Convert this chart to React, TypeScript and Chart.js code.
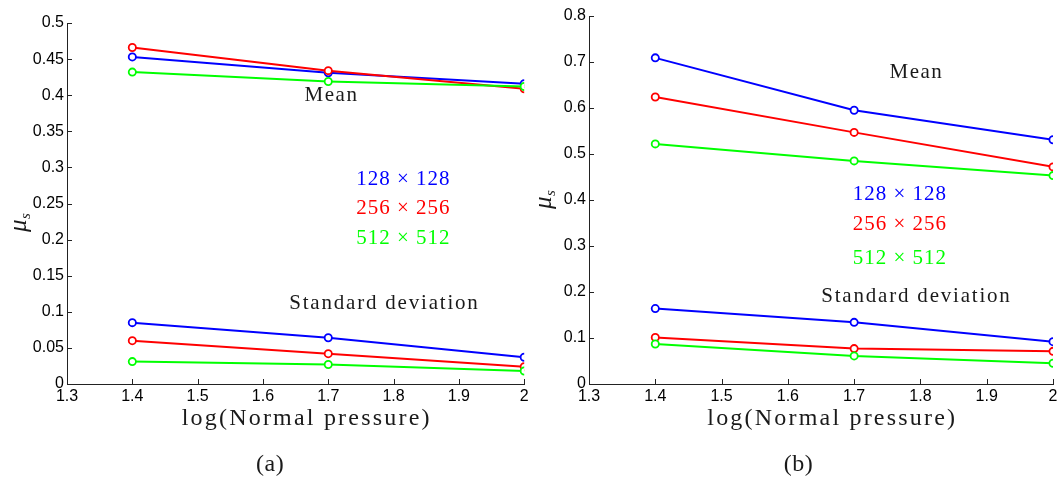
import React, { useEffect, useRef } from "react";
import { Chart, registerables } from "chart.js";

Chart.register(...registerables);

// ---------- data ----------
const xValues = [1.4, 1.7, 2.0];
const xTickValues = [1.3, 1.4, 1.5, 1.6, 1.7, 1.8, 1.9, 2.0];
const aYTickValues = [0, 0.05, 0.1, 0.15, 0.2, 0.25, 0.3, 0.35, 0.4, 0.45, 0.5];
const bYTickValues = [0, 0.1, 0.2, 0.3, 0.4, 0.5, 0.6, 0.7, 0.8];

const seriesNames = ["128 \u00d7 128", "256 \u00d7 256", "512 \u00d7 512"];
const seriesColors = ["#0000ff", "#ff0000", "#00ff00"];

// panel (a)
const aMean128 = [0.453, 0.431, 0.416];
const aMean256 = [0.466, 0.434, 0.409];
const aMean512 = [0.432, 0.419, 0.412];
const aStd128 = [0.085, 0.064, 0.037];
const aStd256 = [0.060, 0.042, 0.024];
const aStd512 = [0.031, 0.027, 0.018];

// panel (b)
const bMean128 = [0.709, 0.595, 0.531];
const bMean256 = [0.624, 0.547, 0.472];
const bMean512 = [0.522, 0.485, 0.453];
const bStd128 = [0.164, 0.134, 0.092];
const bStd256 = [0.101, 0.077, 0.071];
const bStd512 = [0.087, 0.061, 0.045];

const xTitle = "log(Normal pressure)";
const meanText = "Mean";
const stdText = "Standard deviation";

// ---------- helpers ----------
const TEXT_COLOR = "#1a1a1a";
const SERIF = "'Liberation Serif', 'Times New Roman', serif";
const SANS = "'Liberation Sans', Arial, sans-serif";

type Ann = { text: string; x: number; y: number; color: string; size: number; spacing: number };

type PanelProps = {
  left: number;
  width: number;
  plotLeft: number;
  plotRight: number;
  plotTop: number;
  yMax: number;
  yTicks: number[];
  series: number[][][];
  anns: Ann[];
  muPos: [number, number];
  tag: string;
  tagX: number;
};

const H = 480;
const PLOT_BOTTOM = 384;

function fmt(v: number): string {
  return String(Number(v.toFixed(2)));
}

function Panel(p: PanelProps) {
  const ref = useRef<HTMLCanvasElement | null>(null);

  useEffect(() => {
    const canvas = ref.current;
    if (!canvas) return;

    const datasets: any[] = [];
    p.series.forEach((group) => {
      group.forEach((vals, si) => {
        datasets.push({
          label: seriesNames[si],
          data: xValues.map((x, i) => ({ x, y: vals[i] })),
          borderColor: seriesColors[si],
          backgroundColor: seriesColors[si],
          pointBorderColor: seriesColors[si],
          pointBackgroundColor: "#ffffff",
          pointRadius: 3.6,
          pointBorderWidth: 1.8,
          borderWidth: 2,
          tension: 0,
          fill: false,
          order: 2 - si,
        });
      });
    });

    const overlay = {
      id: "overlay",
      afterDraw(chart: any) {
        const ctx = chart.ctx as CanvasRenderingContext2D;
        const xs = chart.scales.x;
        const ys = chart.scales.y;
        const area = chart.chartArea;
        ctx.save();
        // inward ticks
        ctx.strokeStyle = "#222";
        ctx.lineWidth = 1;
        ctx.beginPath();
        xTickValues.forEach((v) => {
          const px = Math.round(xs.getPixelForValue(v)) + 0.5;
          ctx.moveTo(px, area.bottom);
          ctx.lineTo(px, area.bottom - 5);
        });
        p.yTicks.forEach((v) => {
          const py = Math.round(ys.getPixelForValue(v)) + 0.5;
          ctx.moveTo(area.left, py);
          ctx.lineTo(area.left + 5, py);
        });
        ctx.stroke();

        // annotations in data coordinates
        ctx.textAlign = "center";
        ctx.textBaseline = "middle";
        p.anns.forEach((a) => {
          ctx.font = `${a.size}px ${SERIF}`;
          (ctx as any).letterSpacing = `${a.spacing}px`;
          ctx.fillStyle = a.color;
          ctx.fillText(a.text, xs.getPixelForValue(a.x), ys.getPixelForValue(a.y));
        });

        // x axis title
        ctx.font = `24px ${SERIF}`;
        (ctx as any).letterSpacing = "2.2px";
        ctx.fillStyle = TEXT_COLOR;
        ctx.fillText(xTitle, xs.getPixelForValue(1.667), 419);

        // panel tag
        (ctx as any).letterSpacing = "0.5px";
        ctx.fillText(p.tag, xs.getPixelForValue(p.tagX), 465);

        // y label mu_s
        (ctx as any).letterSpacing = "0px";
        ctx.translate(p.muPos[0], p.muPos[1]);
        ctx.rotate(-Math.PI / 2);
        ctx.textAlign = "left";
        ctx.textBaseline = "alphabetic";
        ctx.font = `italic 25px ${SERIF}`;
        ctx.fillText("\u03bc", -9, 5);
        ctx.font = `italic 15px ${SERIF}`;
        ctx.fillText("s", 4, 9);
        ctx.restore();
      },
    };

    const chart = new Chart(canvas, {
      type: "line",
      data: { datasets },
      options: {
        responsive: false,
        animation: false,
        devicePixelRatio: 1,
        layout: {
          padding: { top: p.plotTop, right: p.width - p.plotRight, bottom: 0, left: 0 },
        },
        plugins: {
          legend: { display: false },
          tooltip: { enabled: false },
          title: { display: false },
        },
        scales: {
          x: {
            type: "linear",
            min: 1.3,
            max: 2.0,
            afterBuildTicks: (s: any) => {
              s.ticks = xTickValues.map((v) => ({ value: v }));
            },
            afterFit: (s: any) => {
              s.height = H - PLOT_BOTTOM;
              s.paddingLeft = 0;
              s.paddingRight = 0;
            },
            ticks: {
              callback: (v: any) => fmt(Number(v)),
              color: "#000",
              font: { family: SANS, size: 16 },
              padding: 3,
              maxRotation: 0,
              autoSkip: false,
            },
            grid: { display: false, drawTicks: false },
            border: { display: true, color: "#222", width: 1 },
          },
          y: {
            type: "linear",
            min: 0,
            max: p.yMax,
            afterBuildTicks: (s: any) => {
              s.ticks = p.yTicks.map((v) => ({ value: v }));
            },
            afterFit: (s: any) => {
              s.width = p.plotLeft;
              s.paddingTop = 0;
              s.paddingBottom = 0;
            },
            ticks: {
              callback: (v: any) => fmt(Number(v)),
              color: "#000",
              font: { family: SANS, size: 16 },
              padding: 3,
              autoSkip: false,
            },
            grid: { display: false, drawTicks: false },
            border: { display: true, color: "#222", width: 1 },
          },
        },
      },
      plugins: [overlay],
    } as any);

    return () => chart.destroy();
  }, []);

  return (
    <canvas
      ref={ref}
      width={p.width}
      height={H}
      style={{ position: "absolute", left: p.left, top: 0, width: p.width, height: H }}
    />
  );
}

export default function App() {
  const annA: Ann[] = [
    { text: meanText, x: 1.705, y: 0.399, color: TEXT_COLOR, size: 21, spacing: 1.5 },
    { text: seriesNames[0], x: 1.815, y: 0.283, color: seriesColors[0], size: 21, spacing: 1 },
    { text: seriesNames[1], x: 1.815, y: 0.243, color: seriesColors[1], size: 21, spacing: 1 },
    { text: seriesNames[2], x: 1.815, y: 0.201, color: seriesColors[2], size: 21, spacing: 1 },
    { text: stdText, x: 1.786, y: 0.111, color: TEXT_COLOR, size: 21, spacing: 1.8 },
  ];
  const annB: Ann[] = [
    { text: meanText, x: 1.794, y: 0.678, color: TEXT_COLOR, size: 21, spacing: 1.5 },
    { text: seriesNames[0], x: 1.769, y: 0.412, color: seriesColors[0], size: 21, spacing: 1 },
    { text: seriesNames[1], x: 1.769, y: 0.347, color: seriesColors[1], size: 21, spacing: 1 },
    { text: seriesNames[2], x: 1.769, y: 0.273, color: seriesColors[2], size: 21, spacing: 1 },
    { text: stdText, x: 1.794, y: 0.191, color: TEXT_COLOR, size: 21, spacing: 1.8 },
  ];

  return (
    <div
      style={{
        position: "fixed",
        left: 0,
        top: 0,
        width: 1061,
        height: H,
        background: "#ffffff",
        overflow: "hidden",
      }}
    >
      <Panel
        left={0}
        width={530}
        plotLeft={67}
        plotRight={525}
        plotTop={23}
        yMax={0.5}
        yTicks={aYTickValues}
        series={[
          [aMean128, aMean256, aMean512],
          [aStd128, aStd256, aStd512],
        ]}
        anns={annA}
        muPos={[21, 223]}
        tag="(a)"
        tagX={1.611}
      />
      <Panel
        left={530}
        width={531}
        plotLeft={59}
        plotRight={523}
        plotTop={16}
        yMax={0.8}
        yTicks={bYTickValues}
        series={[
          [bMean128, bMean256, bMean512],
          [bStd128, bStd256, bStd512],
        ]}
        anns={annB}
        muPos={[16, 200]}
        tag="(b)"
        tagX={1.616}
      />
    </div>
  );
}
